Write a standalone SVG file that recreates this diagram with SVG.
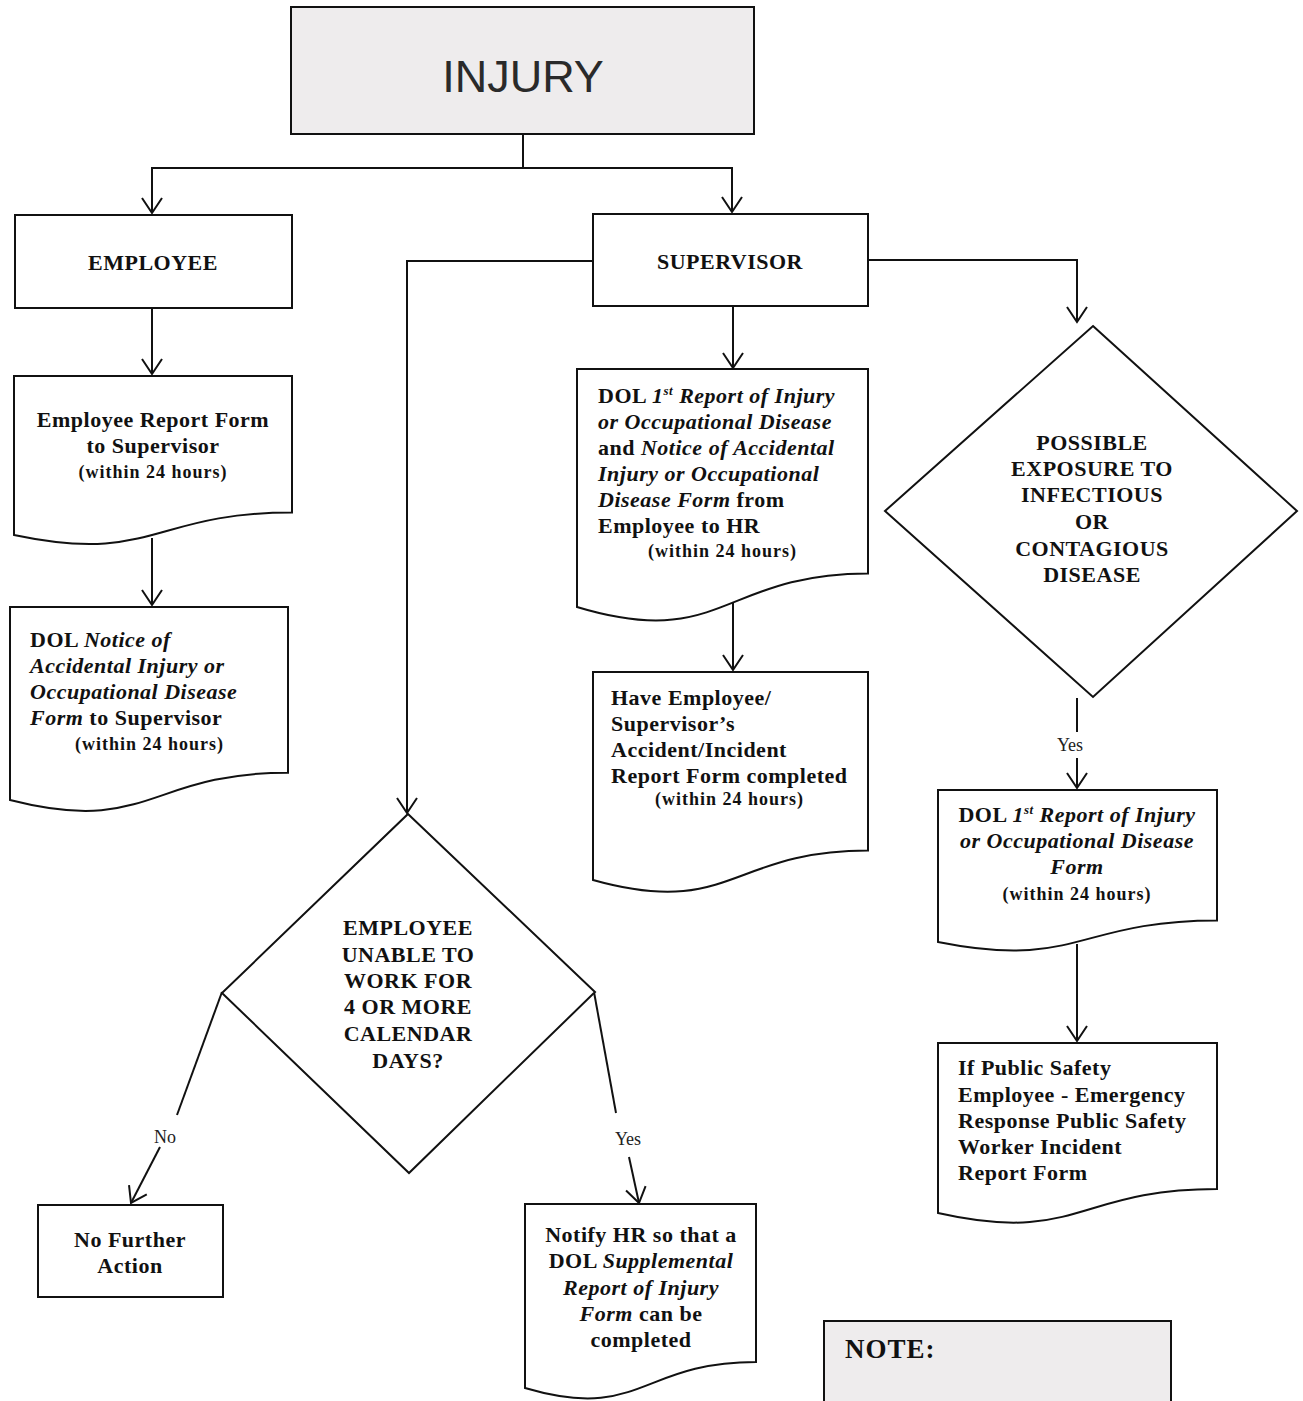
<svg xmlns="http://www.w3.org/2000/svg" width="1303" height="1401" viewBox="0 0 1303 1401">
<defs>
<style>
.shape{fill:#fff;stroke:#111;stroke-width:2}
.gray{fill:#eeeced;stroke:#111;stroke-width:2}
.t{font-family:"Liberation Serif","Times New Roman",serif;font-weight:bold;font-size:22px;letter-spacing:0.5px;fill:#111}
.s{font-family:"Liberation Serif","Times New Roman",serif;font-weight:bold;font-size:18px;letter-spacing:1px;fill:#111}
.c{text-anchor:middle}
.i{font-style:italic}
.lbl{font-family:"Liberation Serif","Times New Roman",serif;font-size:18px;fill:#222;text-anchor:middle}
.conn path{fill:none;stroke:#111;stroke-width:2}
</style>
<marker id="arr" markerUnits="userSpaceOnUse" viewBox="-17 -12 19 24" refX="0" refY="0" markerWidth="19" markerHeight="24" orient="auto">
<path d="M-15,-10 L0,0 L-15,10" fill="none" stroke="#111" stroke-width="2"/>
</marker>
</defs>
<rect width="1303" height="1401" fill="#fff"/>

<g id="connectors" class="conn">
<path d="M523,134 V168 H152 V213" marker-end="url(#arr)"/>
<path d="M523,168 H732 V212" marker-end="url(#arr)"/>
<path d="M152,308 V374" marker-end="url(#arr)"/>
<path d="M152,538 V605" marker-end="url(#arr)"/>
<path d="M733,306 V368" marker-end="url(#arr)"/>
<path d="M733,603 V670" marker-end="url(#arr)"/>
<path d="M593,261 H407 V813" marker-end="url(#arr)"/>
<path d="M868,260 H1077 V322" marker-end="url(#arr)"/>
<path d="M1077,698 V732"/>
<path d="M1077,758 V788" marker-end="url(#arr)"/>
<path d="M1077,944 V1041" marker-end="url(#arr)"/>
<path d="M222,992 L177,1115"/>
<path d="M160,1147 L131,1203" marker-end="url(#arr)"/>
<path d="M594,992 L616,1113"/>
<path d="M629,1157 L639,1203" marker-end="url(#arr)"/>
<text class="lbl" x="1070" y="751">Yes</text>
<text class="lbl" x="165" y="1143">No</text>
<text class="lbl" x="628" y="1145">Yes</text>
</g>

<g id="injury">
<rect class="gray" x="291" y="7" width="463" height="127"/>
<text x="523" y="92" text-anchor="middle" font-family="Liberation Sans, Arial, sans-serif" font-size="45" fill="#2a2a2a">INJURY</text>
</g>

<g id="employee">
<rect class="shape" x="15" y="215" width="277" height="93"/>
<text class="t c" x="153" y="270">EMPLOYEE</text>
</g>

<g id="supervisor">
<rect class="shape" x="593" y="214" width="275" height="92"/>
<text class="t c" x="730" y="269">SUPERVISOR</text>
</g>

<g id="employee-report">
<path class="shape" d="M14,376 H292 V512.5 C153,512.5 153,564.4 14,535 Z"/>
<text class="t c" x="153" y="427">Employee Report Form</text>
<text class="t c" x="153" y="453">to Supervisor</text>
<text class="s c" x="153" y="478">(within 24 hours)</text>
</g>

<g id="dol-notice">
<path class="shape" d="M10,607 H288 V772.7 C149,772.7 149,835.7 10,800 Z"/>
<text class="t" x="30" y="647">DOL <tspan class="i">Notice of</tspan></text>
<text class="t i" x="30" y="673">Accidental Injury or</text>
<text class="t i" x="30" y="699">Occupational Disease</text>
<text class="t" x="30" y="725"><tspan class="i">Form</tspan> to Supervisor</text>
<text class="s" x="75" y="750">(within 24 hours)</text>
</g>

<g id="dol-first-report-hr">
<path class="shape" d="M577,369 H868 V573.4 C722.5,573.4 722.5,651 577,607 Z"/>
<text class="t" x="598" y="403">DOL <tspan class="i">1<tspan font-size="13" dy="-8">st</tspan><tspan dy="8"> Report of Injury</tspan></tspan></text>
<text class="t i" x="598" y="429">or Occupational Disease</text>
<text class="t" x="598" y="455">and <tspan class="i">Notice of Accidental</tspan></text>
<text class="t i" x="598" y="481">Injury or Occupational</text>
<text class="t" x="598" y="507"><tspan class="i">Disease Form</tspan> from</text>
<text class="t" x="598" y="533">Employee to HR</text>
<text class="s" x="648" y="557">(within 24 hours)</text>
</g>

<g id="accident-report">
<path class="shape" d="M593,672 H868 V850.6 C730.5,850.6 730.5,918.5 593,880 Z"/>
<text class="t" x="611" y="705">Have Employee/</text>
<text class="t" x="611" y="731">Supervisor’s</text>
<text class="t" x="611" y="757">Accident/Incident</text>
<text class="t" x="611" y="783">Report Form completed</text>
<text class="s" x="655" y="805">(within 24 hours)</text>
</g>

<g id="exposure-decision">
<polygon class="shape" points="1093,326 1297,511 1093,697 885,511"/>
<text class="t c" x="1092" y="450">POSSIBLE</text>
<text class="t c" x="1092" y="476">EXPOSURE TO</text>
<text class="t c" x="1092" y="502">INFECTIOUS</text>
<text class="t c" x="1092" y="529">OR</text>
<text class="t c" x="1092" y="556">CONTAGIOUS</text>
<text class="t c" x="1092" y="582">DISEASE</text>
</g>

<g id="dol-first-report">
<path class="shape" d="M938,790 H1217 V920.5 C1077.5,920.5 1077.5,970 938,942 Z"/>
<text class="t c" x="1077" y="822">DOL <tspan class="i">1<tspan font-size="13" dy="-8">st</tspan><tspan dy="8"> Report of Injury</tspan></tspan></text>
<text class="t c i" x="1077" y="848">or Occupational Disease</text>
<text class="t c i" x="1077" y="874">Form</text>
<text class="s c" x="1077" y="900">(within 24 hours)</text>
</g>

<g id="public-safety">
<path class="shape" d="M938,1043 H1217 V1189 C1077.5,1189 1077.5,1244.5 938,1213 Z"/>
<text class="t" x="958" y="1075">If Public Safety</text>
<text class="t" x="958" y="1102">Employee - Emergency</text>
<text class="t" x="958" y="1128">Response Public Safety</text>
<text class="t" x="958" y="1154">Worker Incident</text>
<text class="t" x="958" y="1180">Report Form</text>
</g>

<g id="unable-decision">
<polygon class="shape" points="408,814 595,992 409,1173 222,993"/>
<text class="t c" x="408" y="935">EMPLOYEE</text>
<text class="t c" x="408" y="962">UNABLE TO</text>
<text class="t c" x="408" y="988">WORK FOR</text>
<text class="t c" x="408" y="1014">4 OR MORE</text>
<text class="t c" x="408" y="1041">CALENDAR</text>
<text class="t c" x="408" y="1068">DAYS?</text>
</g>

<g id="no-further-action">
<rect class="shape" x="38" y="1205" width="185" height="92"/>
<text class="t c" x="130" y="1247">No Further</text>
<text class="t c" x="130" y="1273">Action</text>
</g>

<g id="notify-hr">
<path class="shape" d="M525,1204 H756 V1362 C640.5,1362 640.5,1422 525,1388 Z"/>
<text class="t c" x="641" y="1242">Notify HR so that a</text>
<text class="t c" x="641" y="1268">DOL <tspan class="i">Supplemental</tspan></text>
<text class="t c i" x="641" y="1295">Report of Injury</text>
<text class="t c" x="641" y="1321"><tspan class="i">Form</tspan> can be</text>
<text class="t c" x="641" y="1347">completed</text>
</g>

<g id="note">
<rect class="gray" x="824" y="1321" width="347" height="100"/>
<text x="845" y="1358" font-family="Liberation Serif, Times New Roman, serif" font-weight="bold" font-size="27" letter-spacing="1" fill="#111">NOTE:</text>
</g>
</svg>
